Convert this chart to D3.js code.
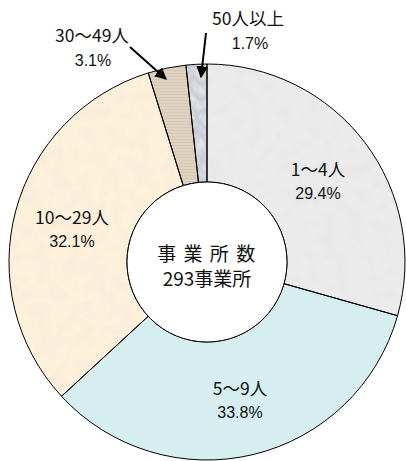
<!DOCTYPE html>
<html><head><meta charset="utf-8">
<script src="https://cdn.jsdelivr.net/npm/d3@7"></script>
<style>html,body{margin:0;padding:0;background:#fff;}svg{display:block;}</style>
</head><body>
<svg id="c" width="406" height="461"></svg>
<script>
const categories = ["1～4人", "5～9人", "10～29人", "30～49人", "50人以上"];
const values = [29.4, 33.8, 32.1, 3.1, 1.7];
const pctLabels = ["29.4%", "33.8%", "32.1%", "3.1%", "1.7%"];
const centerText = ["事 業 所 数", "293事業所"];

const cx = 207, cy = 262, R = 198, r0 = 80;
const svg = d3.select("#c");
const defs = svg.append("defs");

const f = defs.append("filter").attr("id", "noise").attr("x", 0).attr("y", 0).attr("width", "100%").attr("height", "100%");
f.append("feTurbulence").attr("type", "fractalNoise").attr("baseFrequency", 0.07).attr("numOctaves", 3).attr("seed", 4).attr("result", "t");
f.append("feColorMatrix").attr("in", "t").attr("type", "matrix")
  .attr("values", "0 0 0 0 0.55  0 0 0 0 0.55  0 0 0 0 0.55  1 0 0 0 -0.4").attr("result", "m");
f.append("feComponentTransfer").attr("in", "m").attr("result", "m2").append("feFuncA").attr("type", "linear").attr("slope", 0.22);
f.append("feComposite").attr("in", "m2").attr("in2", "SourceGraphic").attr("operator", "in").attr("result", "n");
const mg = f.append("feMerge");
mg.append("feMergeNode").attr("in", "SourceGraphic");
mg.append("feMergeNode").attr("in", "n");

const f2 = defs.append("filter").attr("id", "marble").attr("x", 0).attr("y", 0).attr("width", "100%").attr("height", "100%");
f2.append("feTurbulence").attr("type", "turbulence").attr("baseFrequency", "0.09 0.06").attr("numOctaves", 2).attr("seed", 7).attr("result", "t");
f2.append("feColorMatrix").attr("in", "t").attr("type", "matrix")
  .attr("values", "0 0 0 0 0.95  0 0 0 0 0.95  0 0 0 0 0.97  0.9 0 0 0 -0.05").attr("result", "m");
f2.append("feComposite").attr("in", "m").attr("in2", "SourceGraphic").attr("operator", "in").attr("result", "n");
const mg2 = f2.append("feMerge");
mg2.append("feMergeNode").attr("in", "SourceGraphic");
mg2.append("feMergeNode").attr("in", "n");

const lg = defs.append("linearGradient").attr("id", "cyanGrad").attr("gradientUnits", "userSpaceOnUse")
  .attr("x1", 0).attr("y1", 295).attr("x2", 0).attr("y2", 460);
lg.append("stop").attr("offset", 0).attr("stop-color", "#d6eef0");
lg.append("stop").attr("offset", 0.3).attr("stop-color", "#b2dbdf");
lg.append("stop").attr("offset", 0.55).attr("stop-color", "#bde1e4");
lg.append("stop").attr("offset", 1).attr("stop-color", "#fbfdfd");

const sp = defs.append("pattern").attr("id", "stripes").attr("patternUnits", "userSpaceOnUse").attr("width", 6).attr("height", 3);
sp.append("rect").attr("width", 6).attr("height", 3).attr("fill", "#ded2c0");
sp.append("rect").attr("width", 6).attr("height", 1).attr("fill", "#d6c9b6");

const fills = ["#ebebeb", "url(#cyanGrad)", "#fdf1dc", "url(#stripes)", "#c9ccd6"];
const filters = ["url(#noise)", null, "url(#noise)", null, "url(#marble)"];

const pie = d3.pie().sort(null).value(d => d)(values);
const arc = d3.arc().innerRadius(r0).outerRadius(R);
const g = svg.append("g").attr("transform", `translate(${cx},${cy})`);

g.selectAll("path.s").data(pie).join("path").attr("class", "s")
  .attr("d", arc)
  .attr("fill", (d, i) => fills[i])
  .attr("filter", (d, i) => filters[i]);

g.selectAll("path.o").data(pie).join("path").attr("class", "o")
  .attr("d", arc).attr("fill", "none").attr("stroke", "#000").attr("stroke-width", 1);

g.append("circle").attr("r", r0).attr("fill", "#fff").attr("stroke", "#000").attr("stroke-width", 1);

const font = "'Noto Sans CJK JP', 'Noto Sans', sans-serif";
g.append("text").attr("x", 0).attr("y", -1).attr("text-anchor", "middle").attr("font-family", font)
  .attr("font-size", 19).attr("fill", "#111").attr("letter-spacing", 1.5).text(centerText[0]);
g.append("text").attr("x", 0).attr("y", 24).attr("text-anchor", "middle").attr("font-family", font)
  .attr("font-size", 19).attr("fill", "#111").text(centerText[1]);

const labelPos = [[318, 176], [240, 395], [72, 224], [92, 42], [248, 25]];
const pctPos = [[318, 199], [240, 418], [72, 247], [93, 66], [250, 49]];

svg.selectAll("text.cat").data(categories).join("text").attr("class", "cat")
  .attr("x", (d, i) => labelPos[i][0]).attr("y", (d, i) => labelPos[i][1])
  .attr("text-anchor", "middle").attr("font-family", font).attr("font-size", 17.5).attr("fill", "#111")
  .text(d => d);
svg.selectAll("text.pct").data(pctLabels).join("text").attr("class", "pct")
  .attr("x", (d, i) => pctPos[i][0]).attr("y", (d, i) => pctPos[i][1])
  .attr("text-anchor", "middle").attr("font-family", "'Liberation Sans Narrow', 'Liberation Sans', sans-serif")
  .attr("font-size", 16).attr("fill", "#111")
  .text(d => d);

const mk = defs.append("marker").attr("id", "ah").attr("viewBox", "0 0 10 10").attr("refX", 9).attr("refY", 5)
  .attr("markerWidth", 6).attr("markerHeight", 6).attr("orient", "auto");
mk.append("path").attr("d", "M0,0 L10,5 L0,10 Z").attr("fill", "#000");
const arrows = [[[130, 47], [166, 79]], [[206, 33], [201, 77]]];
svg.selectAll("line.ar").data(arrows).join("line").attr("class", "ar")
  .attr("x1", d => d[0][0]).attr("y1", d => d[0][1]).attr("x2", d => d[1][0]).attr("y2", d => d[1][1])
  .attr("stroke", "#000").attr("stroke-width", 2).attr("marker-end", "url(#ah)");
</script>
</body></html>
